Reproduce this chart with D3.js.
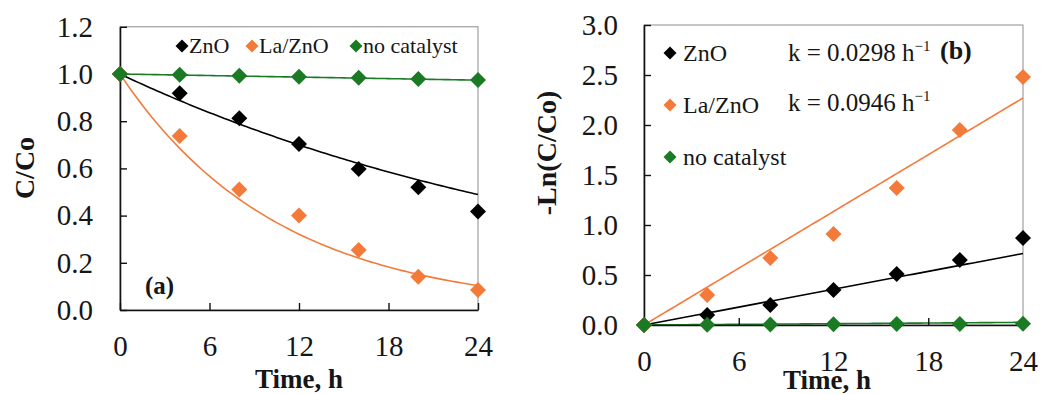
<!DOCTYPE html>
<html>
<head>
<meta charset="utf-8">
<script src="https://cdn.jsdelivr.net/npm/d3@7"></script>
<style>
  html, body { margin: 0; padding: 0; background: #fff; }
  svg { display: block; }
  svg text { font-family: "Liberation Serif", "Times New Roman", serif; }
</style>
</head>
<body>
<svg id="chart" width="1041" height="394"></svg>
<script>
// Sampling times (h)
const times = [0, 4, 8, 12, 16, 20, 24];
const timeTicks = [0, 6, 12, 18, 24];

// Series names and colours
const seriesNames = ["ZnO", "La/ZnO", "no catalyst"];
const seriesColors = ["#000000", "#f47a3a", "#1b7a24"];

// Panel (a): relative concentration C/Co
const ratioZnO = [1.0, 0.918, 0.812, 0.703, 0.597, 0.52, 0.417];
const ratioLaZnO = [1.0, 0.737, 0.511, 0.40, 0.254, 0.141, 0.085];
const ratioNone = [1.0, 0.997, 0.993, 0.988, 0.984, 0.979, 0.975];

// Panel (b): -Ln(C/Co)
const lnZnO = [0, 0.10, 0.20, 0.35, 0.51, 0.65, 0.87];
const lnLaZnO = [0, 0.30, 0.67, 0.91, 1.37, 1.95, 2.48];
const lnNone = [0, 0.003, 0.005, 0.007, 0.009, 0.011, 0.013];

// Pseudo-first-order rate constants (h^-1) for the fitted lines
const rateConstants = [0.0298, 0.0946, 0.0011];
const rateLabels = ["k = 0.0298 h", "k = 0.0946 h"];

const ticksA = [0, 0.2, 0.4, 0.6, 0.8, 1.0, 1.2];
const ticksB = [0, 0.5, 1.0, 1.5, 2.0, 2.5, 3.0];

const FONT = "Liberation Serif, Times New Roman, serif";
const svg = d3.select("#chart");
const textColor = "#161616";

function diamond(r) {
  return `M0,${-r}L${r},0L0,${r}L${-r},0Z`;
}

function addText(x, y, str, size, bold) {
  return svg.append("text")
    .attr("x", x).attr("y", y)
    .attr("font-family", FONT)
    .attr("font-size", size)
    .attr("font-weight", bold ? "bold" : "normal")
    .attr("fill", textColor)
    .text(str);
}

function drawPanel(opt) {
  const { x, y, yTicks, series, fits } = opt;
  const g = svg.append("g");

  // plot area frame
  g.append("rect")
    .attr("x", x.range()[0]).attr("y", y.range()[1])
    .attr("width", x.range()[1] - x.range()[0])
    .attr("height", y.range()[0] - y.range()[1])
    .attr("fill", "none").attr("stroke", "#8c8c8c").attr("stroke-width", 1);

  // fitted curves
  const fitLine = d3.line().x(d => x(d[0])).y(d => y(d[1]));
  const tFine = d3.range(0, 24.001, 0.25);
  fits.forEach((f, i) => {
    g.append("path")
      .attr("d", fitLine(tFine.map(t => [t, f(t)])))
      .attr("fill", "none")
      .attr("stroke", seriesColors[i])
      .attr("stroke-width", 1.6);
  });

  // axes with inward ticks
  const yAxis = d3.axisLeft(y).tickValues(yTicks).tickFormat(d3.format(".1f"))
    .tickSizeInner(-7).tickSizeOuter(0).tickPadding(opt.yPad);
  const xAxis = d3.axisBottom(x).tickValues(timeTicks).tickFormat(d3.format("d"))
    .tickSizeInner(-7).tickSizeOuter(0).tickPadding(opt.xPad);

  const ya = g.append("g").attr("transform", `translate(${x.range()[0]},0)`).call(yAxis);
  const xa = g.append("g").attr("transform", `translate(0,${y.range()[0]})`).call(xAxis);
  [ya, xa].forEach(a => {
    a.attr("font-family", FONT).attr("font-size", 29);
    a.select(".domain").attr("stroke", "#111").attr("stroke-width", 1.6);
    a.selectAll(".tick line").attr("stroke", "#111").attr("stroke-width", 1.4);
    a.selectAll(".tick text").attr("fill", textColor);
  });

  // data markers
  series.forEach((vals, i) => {
    g.append("g").selectAll("path")
      .data(vals)
      .join("path")
      .attr("d", diamond(8))
      .attr("transform", (d, j) => `translate(${x(times[j])},${y(d)})`)
      .attr("fill", seriesColors[i]);
  });
  return g;
}

// ---------- Panel (a) ----------
const xA = d3.scaleLinear().domain([0, 24]).range([120, 478]);
const yA = d3.scaleLinear().domain([0, 1.2]).range([310, 26.8]);
drawPanel({
  x: xA, y: yA, yTicks: ticksA, xPad: 25, yPad: 27,
  series: [ratioZnO, ratioLaZnO, ratioNone],
  fits: rateConstants.map(k => t => Math.exp(-k * t))
});

addText(299, 388, "Time, h", 27, true).attr("text-anchor", "middle");
addText(0, 0, "C/Co", 28, true)
  .attr("transform", "translate(34,168) rotate(-90)")
  .attr("text-anchor", "middle");
addText(145, 294, "(a)", 25, true);

// legend (a), one row
const legendA = [182, 252, 356];
seriesNames.forEach((name, i) => {
  svg.append("path")
    .attr("d", diamond(6.5))
    .attr("transform", `translate(${legendA[i]},46)`)
    .attr("fill", seriesColors[i]);
  addText(legendA[i] + 7, 53, name, 22, false);
});

// ---------- Panel (b) ----------
const xB = d3.scaleLinear().domain([0, 24]).range([644, 1023]);
const yB = d3.scaleLinear().domain([0, 3]).range([325, 25]);
drawPanel({
  x: xB, y: yB, yTicks: ticksB, xPad: 25, yPad: 26,
  series: [lnZnO, lnLaZnO, lnNone],
  fits: rateConstants.map(k => t => k * t)
});

addText(827, 389, "Time, h", 27, true).attr("text-anchor", "middle");
addText(0, 0, "-Ln(C/Co)", 28, true)
  .attr("transform", "translate(556,153) rotate(-90)")
  .attr("text-anchor", "middle");
addText(940, 59, "(b)", 26, true);

// legend (b), stacked
const legendB = [53, 105, 157];
seriesNames.forEach((name, i) => {
  svg.append("path")
    .attr("d", diamond(6.5))
    .attr("transform", `translate(670,${legendB[i]})`)
    .attr("fill", seriesColors[i]);
  addText(683, legendB[i] + 8, name, 24, false);
});

// rate constant labels
rateLabels.forEach((lab, i) => {
  const t = addText(788, 61 + i * 50, null, 25, false);
  t.append("tspan").text(lab);
  t.append("tspan").attr("dy", -10).attr("font-size", 15).text("\u22121");
});
</script>
</body>
</html>
